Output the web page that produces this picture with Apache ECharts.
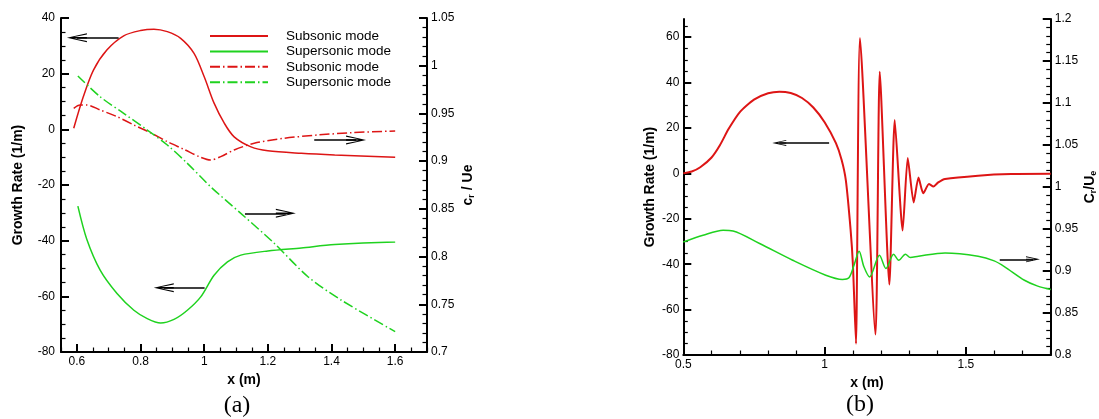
<!DOCTYPE html>
<html><head><meta charset="utf-8">
<script src="https://cdn.jsdelivr.net/npm/echarts@6/dist/echarts.min.js"></script>
<style>html,body{margin:0;padding:0;background:#fff}#c{width:1099px;height:419px}</style>
</head><body><div id="c"></div>
<script>
// ---------- Panel (a) data: [x (m), value] ----------
const subGrowthA = [[0.59,0.4],[0.62,11.7],[0.652,21.3],[0.694,28.5],[0.747,33.6],[0.8,35.5],[0.842,36],[0.884,35.1],[0.926,32.7],[0.968,27.3],[1.0,18.9],[1.031,9.4],[1.063,2.2],[1.094,-2.7],[1.147,-6.3],[1.2,-7.7],[1.305,-8.6],[1.41,-9.2],[1.6,-10]];
const supGrowthA = [[0.603,-27.6],[0.631,-39.5],[0.673,-50.6],[0.726,-59],[0.779,-65],[0.821,-68],[0.863,-69.6],[0.905,-68.3],[0.947,-65],[0.989,-60.2],[1.031,-52.4],[1.073,-47.6],[1.115,-45.2],[1.2,-43.7],[1.305,-42.6],[1.41,-41.4],[1.6,-40.5]];
const subPhaseA = [[0.59,0.9554],[0.61,0.9588],[0.631,0.9588],[0.673,0.9536],[0.726,0.9466],[0.779,0.9379],[0.831,0.9298],[0.884,0.9204],[0.936,0.9124],[0.989,0.904],[1.02,0.9012],[1.052,0.9047],[1.094,0.9117],[1.157,0.9187],[1.252,0.924],[1.357,0.9274],[1.462,0.9298],[1.6,0.9316]];
const supPhaseA = [[0.603,0.9892],[0.673,0.9675],[0.747,0.9501],[0.821,0.9326],[0.884,0.9169],[0.947,0.8977],[1.02,0.8732],[1.115,0.8453],[1.22,0.8139],[1.326,0.7789],[1.43,0.7545],[1.6,0.7213]];

// ---------- Panel (b) data ----------
const subGrowthB = [[0.5,0],[0.53,0.8],[0.56,2.7],[0.6,7],[0.63,12.5],[0.66,19.5],[0.7,27],[0.75,32.5],[0.8,35.3],[0.84,36],[0.88,35.4],[0.92,33.2],[0.96,29],[1.0,22.5],[1.04,13.3],[1.06,6],[1.075,-3],[1.092,-25],[1.1,-40],[1.111,-75],[1.125,59.6],[1.18,-71],[1.195,44.8],[1.229,-49],[1.248,23.5],[1.276,-25.2],[1.294,6.8],[1.315,-12.8],[1.332,-1.8],[1.349,-8.8],[1.369,-4.7],[1.385,-5.8],[1.402,-4],[1.426,-2.5],[1.543,-1],[1.66,-0.3],[1.8,-0.2]];
const supPhaseB = [[0.5,0.9346],[0.57,0.9425],[0.641,0.9485],[0.676,0.9477],[0.77,0.9327],[0.887,0.9128],[1.004,0.895],[1.063,0.89],[1.086,0.892],[1.104,0.907],[1.122,0.9235],[1.139,0.905],[1.159,0.893],[1.194,0.9188],[1.217,0.903],[1.244,0.92],[1.262,0.9128],[1.286,0.92],[1.303,0.916],[1.332,0.9176],[1.426,0.9215],[1.543,0.9176],[1.6,0.912],[1.637,0.905],[1.707,0.889],[1.754,0.882],[1.8,0.878]];

// ---------- tick labels ----------
const xTicksA = [0.6,0.8,1,1.2,1.4,1.6];
const yLeftTicksA = [-80,-60,-40,-20,0,20,40];
const yRightTicksA = [0.7,0.75,0.8,0.85,0.9,0.95,1,1.05];
const xTicksB = [0.5,1,1.5];
const yLeftTicksB = [-80,-60,-40,-20,0,20,40,60];
const yRightTicksB = [0.8,0.85,0.9,0.95,1,1.05,1.1,1.15,1.2];

const legendLabels = ['Subsonic mode','Supersonic mode','Subsonic mode','Supersonic mode'];
const seriesIds = ['subGrowthA','supGrowthA','subPhaseA','supPhaseA'];

// arrows: [tailX, tipX, y]
const arrowsLeftA = [[0.731,0.5685,32.9],[1.0012,0.8414,-56.9]];
const arrowsRightA = [[1.3457,1.5086,0.9222],[1.128,1.288,0.8453]];
const arrowsLeftB = [[1.0159,0.8165,13.4]];
const arrowsRightB = [[1.6196,1.7602,0.9139]];

function minorsOf(min, max, step, major){
  const out=[]; const n=Math.round((max-min)/step);
  for(let i=0;i<=n;i++){const v=+(min+i*step).toFixed(6); if(!major.some(m=>Math.abs(m-v)<1e-9)) out.push(v);}
  return out;
}

const FONT='Liberation Sans';
const RED='#dd1515', GREEN='#1fd21f';

function axes(kind, gridIndex, position, min, max, major, minorStep, margin, name, nameGap, nameStyle){
  const base={type:'value',gridIndex,position,min,max,splitLine:{show:false}};
  const main=Object.assign({},base,{
    axisLine:{show:true,onZero:false,lineStyle:{color:'#000',width:2}},
    axisTick:{show:true,inside:true,length:8,lineStyle:{color:'#000',width:2},customValues:major},
    axisLabel:{show:true,customValues:major,margin,color:'#000',fontSize:12,fontFamily:FONT},
    name,nameLocation:'middle',nameGap,nameRotate:kind==='y'?90:0,
    nameTextStyle:Object.assign({color:'#000',fontSize:14,fontWeight:'bold',fontFamily:FONT},nameStyle||{})
  });
  const mnr=Object.assign({},base,{
    axisLine:{show:false,onZero:false},
    axisTick:{show:true,inside:true,length:4.5,lineStyle:{color:'#000',width:1.2},customValues:minorsOf(min,max,minorStep,major)},
    axisLabel:{show:false}
  });
  return [main,mnr];
}

const richName={
  m:{fontSize:14,fontWeight:'bold',fontFamily:FONT,color:'#000',lineHeight:18},
  s:{fontSize:9,fontWeight:'bold',fontFamily:FONT,color:'#000',lineHeight:18,padding:[7,0,0,0]}
};

const [xa,xam]=axes('x',0,'bottom',0.55,1.7,xTicksA,0.05,4,'x (m)',16);
const [yla,ylam]=axes('y',0,'left',-80,40,yLeftTicksA,5,6,'Growth Rate (1/m)',36);
const [yra,yram]=axes('y',0,'right',0.7,1.05,yRightTicksA,0.01,4,'{m|c}{s|r}{m| / Ue}',32,{rich:richName});
const [xb,xbm]=axes('x',1,'bottom',0.5,1.8,xTicksB,0.1,4,'x (m)',16);
const [ylb,ylbm]=axes('y',1,'left',-80,68,yLeftTicksB,5,4,'Growth Rate (1/m)',26);
const [yrb,yrbm]=axes('y',1,'right',0.8,1.2,yRightTicksB,0.01,4,'{m|C}{s|r}{m|/U}{s|e}',30,{rich:richName});

const ARROW='path://M50,0 L100,100 L86,100 L58,36 L58,100 L42,100 L42,36 L14,100 L0,100 Z';
function arrowLines(list, size, dx){
  return {silent:true,symbol:['none',ARROW],symbolSize:size,animation:false,
    lineStyle:{color:'#000',width:1.5,type:'solid'},label:{show:false},emphasis:{disabled:true},
    data:list.map(a=>{const dir=a[1]<a[0]?1:-1;return [{coord:[a[0],a[2]]},{coord:[a[1]+dir*dx,a[2]]}];})};
}

function line(id,data,color,xi,yi,dash,width,mark){
  const s={type:'line',name:id,data,xAxisIndex:xi,yAxisIndex:yi,symbol:'none',smooth:0.3,
    lineStyle:{color,width:width||1.5,type:dash?[10,3,1.5,3]:'solid'},itemStyle:{color},
    emphasis:{disabled:true},z:3};
  if(mark) s.markLine=mark;
  return s;
}

const option={
  animation:false,
  backgroundColor:'#fff',
  grid:[{left:61,top:18,width:366,height:334},{left:683.3,top:19,width:369,height:336}],
  xAxis:[xa,xam,xb,xbm],
  yAxis:[yla,yra,ylam,yram,ylb,yrb,ylbm,yrbm],
  legend:{orient:'vertical',left:209,top:29,padding:0,itemWidth:58,itemHeight:10,itemGap:1.4,
    data:seriesIds,selectedMode:false,itemStyle:{opacity:0},
    formatter:n=>'{g|}{t|'+legendLabels[seriesIds.indexOf(n)]+'}',
    textStyle:{rich:{g:{width:13},t:{fontSize:13.5,fontFamily:FONT,color:'#000',lineHeight:14}}}},
  series:[
    line('subGrowthA',subGrowthA,RED,0,0,false,1.5,arrowLines(arrowsLeftA,[9,20],0.0315)),
    line('supGrowthA',supGrowthA,GREEN,0,0,false,1.5),
    line('subPhaseA',subPhaseA,RED,0,1,true,1.5,arrowLines(arrowsRightA,[9,20],0.0315)),
    line('supPhaseA',supPhaseA,GREEN,0,1,true,1.5),
    Object.assign(line('subGrowthB',subGrowthB,RED,2,4,false,2,arrowLines(arrowsLeftB,[6,14],0.023)),{smooth:0.2}),
    line('supPhaseB',supPhaseB,GREEN,2,5,false,1.5,arrowLines(arrowsRightB,[6,14],0.023))
  ],
  graphic:[
    {type:'text',x:237,y:406,style:{text:'(a)',textAlign:'center',textVerticalAlign:'middle',font:'24px "Liberation Serif"',fill:'#000'}},
    {type:'text',x:860,y:405,style:{text:'(b)',textAlign:'center',textVerticalAlign:'middle',font:'24px "Liberation Serif"',fill:'#000'}}
  ]
};
const chart=echarts.init(document.getElementById('c'));
chart.setOption(option);
</script></body></html>
